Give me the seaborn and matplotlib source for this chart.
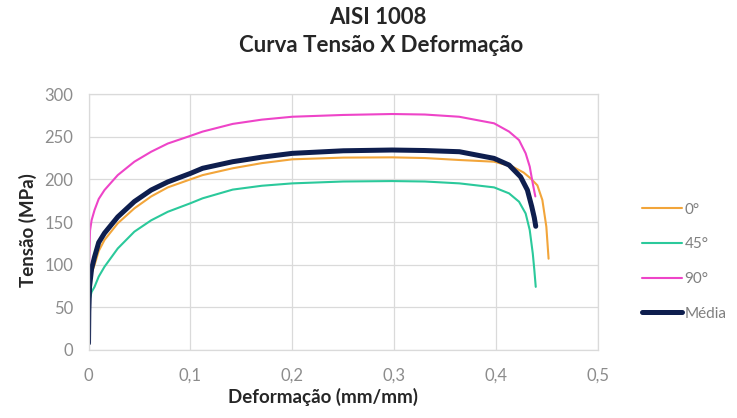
import pandas as pd
import seaborn as sns
import matplotlib.pyplot as plt

# Curvas (deformação mm/mm, tensão MPa)
def_0 = [0, 0.0003, 0.001, 0.003, 0.006, 0.01, 0.0157, 0.0287, 0.045, 0.0615, 0.0778, 0.1, 0.112, 0.1415,
         0.17, 0.2, 0.25, 0.298, 0.33, 0.364, 0.398, 0.416, 0.427, 0.434, 0.4405, 0.4454, 0.4493, 0.4515]
ten_0 = [0, 40, 70, 90, 100, 116, 129, 148.5, 166, 180, 190.6, 200, 205, 213,
         219, 223.5, 225.5, 225.8, 225, 222.7, 220.7, 215, 208, 201, 193, 175.8, 144.5, 107]

def_45 = [0, 0.0003, 0.001, 0.003, 0.0059, 0.01, 0.0157, 0.0287, 0.045, 0.0615, 0.0778, 0.1, 0.112, 0.1415,
          0.17, 0.2, 0.25, 0.298, 0.33, 0.364, 0.398, 0.4127, 0.4225, 0.429, 0.433, 0.436, 0.4375, 0.4389]
ten_45 = [0, 35, 58.6, 68, 74, 86, 97.6, 119, 138.7, 152, 162, 172, 177.8, 188,
          192.5, 195.3, 197.5, 198, 197.5, 195.3, 190.6, 183.6, 173.8, 160, 140.6, 113, 94, 74]

def_90 = [0, 0.0003, 0.0008, 0.0015, 0.003, 0.0059, 0.01, 0.0157, 0.0287, 0.045, 0.0615, 0.0778, 0.1, 0.112,
          0.1415, 0.17, 0.2, 0.25, 0.298, 0.33, 0.3637, 0.398, 0.4127, 0.4225, 0.429, 0.433, 0.436, 0.4385]
ten_90 = [0, 80, 110, 140, 152, 164, 177, 187.5, 205, 220.7, 232.4, 242, 251, 256,
          265, 270, 273.4, 275.5, 276.6, 276, 273.4, 265.7, 256, 246, 230.5, 215, 195, 180]

def_media = [0, 0.0003, 0.001, 0.003, 0.0059, 0.01, 0.0157, 0.0287, 0.045, 0.0615, 0.0778, 0.1, 0.112, 0.1415,
             0.17, 0.2, 0.25, 0.298, 0.33, 0.364, 0.398, 0.4127, 0.424, 0.4307, 0.435, 0.4375, 0.4389]
ten_media = [8, 45, 74, 95, 109, 126, 137, 156, 174, 187.5, 197, 207, 213, 220.7,
             226, 230.5, 233.5, 234.4, 233.8, 232.4, 224.6, 216.8, 203, 187.5, 168, 155, 145]

series = [
    ("0°", def_0, ten_0, "#F2A53A", 1.5),
    ("45°", def_45, ten_45, "#2BC99B", 1.5),
    ("90°", def_90, ten_90, "#EE44C8", 1.5),
    ("Média", def_media, ten_media, "#0E1E4E", 3.6),
]

sns.set_style("white")
plt.rcParams["font.family"] = ["Lato", "DejaVu Sans"]

fig = plt.figure(figsize=(7.37, 4.18), dpi=100)
ax = fig.add_axes([0.1201, 0.1627, 0.6913, 0.6123])

for nome, x, y, cor, lw in series:
    df = pd.DataFrame({"Deformação": x, "Tensão": y})
    sns.lineplot(data=df, x="Deformação", y="Tensão", sort=False, color=cor,
                 linewidth=lw, label=nome, ax=ax, estimator=None)

ax.set_xlim(0, 0.5)
ax.set_ylim(0, 300)
ax.set_xticks([0, 0.1, 0.2, 0.3, 0.4, 0.5])
ax.set_xticklabels(["0", "0,1", "0,2", "0,3", "0,4", "0,5"])
ax.set_yticks(range(0, 301, 50))
ax.tick_params(colors="#8C8C8C", labelsize=12, length=0)
ax.tick_params(axis="x", pad=13)
ax.tick_params(axis="y", pad=11)
ax.grid(True, color="#DADADA", linewidth=0.9)
for s in ax.spines.values():
    s.set_color("#DADADA")
    s.set_linewidth(0.9)

ax.set_xlabel("Deformação (mm/mm)", fontsize=13.5, fontweight="bold", color="#262626", labelpad=3)
ax.set_ylabel("Tensão (MPa)", fontsize=13.5, fontweight="bold", color="#262626", labelpad=5)
ax.xaxis.label.set_x(0.46)
ax.yaxis.label.set_y(0.47)

fig.text(0.513, 0.957, "AISI 1008", ha="center", va="center", fontsize=16, fontweight="bold", color="#262626")
fig.text(0.517, 0.89, "Curva Tensão X Deformação", ha="center", va="center", fontsize=16,
         fontweight="bold", color="#262626")

ax.get_legend().remove()
handles, labels = ax.get_legend_handles_labels()
leg = fig.legend(handles, labels, loc="center left", bbox_to_anchor=(0.871, 0.374), frameon=False,
                 fontsize=11, handlelength=2.6, handletextpad=0.2, labelspacing=1.35,
                 borderaxespad=0, borderpad=0)
for t in leg.get_texts():
    t.set_color("#7F7F7F")

fig.savefig("out.png", dpi=100)
